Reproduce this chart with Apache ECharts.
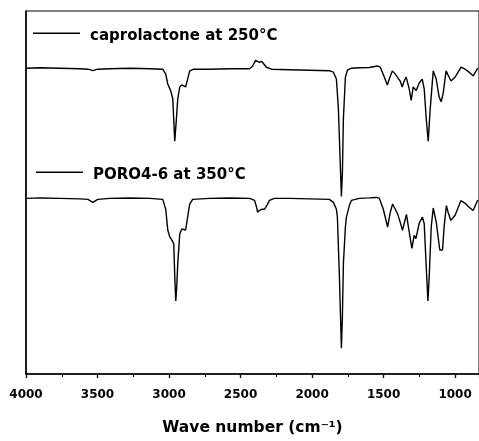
<!DOCTYPE html>
<html>
<head>
<meta charset="utf-8">
<style>html,body{margin:0;padding:0;background:#fff}#c{width:479px;height:441px}</style>
<script src="https://cdn.jsdelivr.net/npm/echarts@6/dist/echarts.min.js"></script>
</head>
<body>
<div id="c"></div>
<script>
var seriesNames = ['caprolactone at 250°C', 'PORO4-6 at 350°C'];
var xTicks = [4000, 3500, 3000, 2500, 2000, 1500, 1000];

var wave1 = [4000,3902,3763,3623,3567,3533,3498,3414,3274,3135,3044,3023,3009,2988,2974,2960,2946,2939,2925,2911,2898,2884,2870,2856,2828,2716,2577,2437,2416,2395,2381,2367,2353,2340,2319,2284,2158,2018,1879,1851,1830,1816,1802,1795,1788,1781,1767,1753,1725,1670,1600,1544,1523,1495,1474,1460,1439,1418,1405,1384,1370,1356,1342,1321,1307,1293,1272,1251,1230,1216,1202,1188,1174,1153,1132,1112,1098,1084,1063,1049,1028,1000,958,930,902,874,846,838];
var trans1 = [310,310.5,310,309.5,309,307.5,309,309.5,310,309.5,309,304,294,287,279,236,264,279,291,293,292.5,291,299,307,309,309,309.5,309.5,312,318,317,316,317,316,311,309,308.5,308,307.5,306,299,269,209,180,204,259,301,308,310,310.5,310.7,312.3,311,301,293,299,307.3,304,302.3,297,291,297,301,289,277.3,291,287.3,295,299,289,259,236,269,307.3,299,281,276,284,307.3,303,297,301,311,309,306,302.3,309,310];

var wave2 = [4000,3902,3763,3623,3567,3533,3498,3414,3274,3135,3044,3023,3009,2995,2981,2967,2960,2953,2946,2939,2925,2911,2898,2884,2870,2856,2835,2716,2577,2437,2402,2388,2381,2367,2353,2332,2312,2298,2263,2158,2018,1879,1851,1830,1823,1809,1795,1788,1781,1767,1760,1739,1725,1670,1600,1551,1530,1502,1472,1453,1437,1418,1402,1384,1368,1340,1321,1302,1286,1274,1251,1228,1216,1202,1190,1181,1167,1153,1132,1107,1088,1077,1061,1049,1030,1000,960,930,902,874,844,838];
var trans2 = [178,178.5,178,177.5,177,174,177,178,178.5,178,177,167,146,139,136,132,99,74,89,112,142,147,147,146,159,172,177,178,178.5,178,176,169,164,166,167,167,172,176,178,178,177.5,177,174,167,159,99,26,59,112,149,159,171,176,178,178.5,179,178.3,167,149,164,172.3,167,162.3,154,145.7,161.7,144,127.3,140.7,137.3,153,159,152.3,109,74,99,149,168.3,154,125.7,125.7,149,170.7,164,155.7,161,175.7,173,169,165.7,175.7,176];

function zip(a, b) { return a.map(function (v, i) { return [v, b[i]]; }); }

var chart = echarts.init(document.getElementById('c'));
var legendText = { fontFamily: 'DejaVu Sans', fontWeight: 'bold', fontSize: 15, color: '#000', padding: [0, 0, 0, 5] };
var legendIcon = 'path://M0,0L47,0L47,1.5L0,1.5Z M0,8L0.01,8L0,8Z';
chart.setOption({
  animation: false,
  backgroundColor: '#fff',
  grid: { left: 26, right: 0, top: 11, bottom: 57, show: true, borderColor: '#000', borderWidth: 1 },
  legend: [
    { data: [seriesNames[0]], icon: legendIcon, left: 33, top: 29, padding: 0, itemWidth: 47, itemHeight: 8, textStyle: legendText, selectedMode: false },
    { data: [seriesNames[1]], icon: legendIcon, left: 36, top: 168, padding: 0, itemWidth: 47, itemHeight: 8, textStyle: legendText, selectedMode: false }
  ],
  xAxis: {
    type: 'value', inverse: true, min: 833, max: 4000, splitNumber: 6,
    name: 'Wave number (cm⁻¹)', nameLocation: 'middle', nameGap: 46,
    nameTextStyle: { fontFamily: 'DejaVu Sans', fontWeight: 'bold', fontSize: 15.5, color: '#000' },
    axisLine: { show: true, lineStyle: { color: '#000', width: 1.5 } },
    axisTick: { show: true, length: 4, lineStyle: { color: '#000', width: 1.3 } },
    minorTick: { show: true, splitNumber: 2, length: 3, lineStyle: { color: '#000', width: 1 } },
    axisLabel: {
      margin: 15, fontFamily: 'DejaVu Sans', fontWeight: 'bold', fontSize: 12, color: '#000',
      showMinLabel: false,
      formatter: function (v) { return xTicks.indexOf(v) >= 0 ? String(v) : ''; }
    },
    splitLine: { show: false }
  },
  yAxis: {
    type: 'value', min: 0, max: 368,
    axisLine: { show: true, lineStyle: { color: '#000', width: 1.5 } },
    axisTick: { show: false }, axisLabel: { show: false }, splitLine: { show: false }
  },
  series: [
    { name: seriesNames[0], type: 'line', data: zip(wave1, trans1), symbol: 'none', lineStyle: { color: '#000', width: 1.4 }, itemStyle: { color: '#000' } },
    { name: seriesNames[1], type: 'line', data: zip(wave2, trans2), symbol: 'none', lineStyle: { color: '#000', width: 1.4 }, itemStyle: { color: '#000' } }
  ]
});
</script>
</body>
</html>
